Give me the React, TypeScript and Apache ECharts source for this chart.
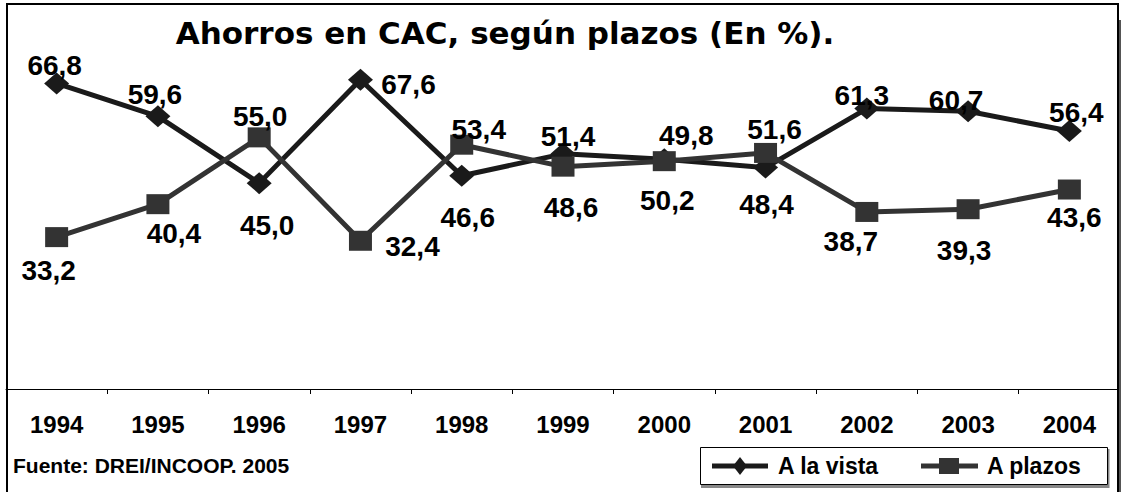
import React, { useEffect, useRef } from "react";
import * as echarts from "echarts";

const years = ["1994", "1995", "1996", "1997", "1998", "1999", "2000", "2001", "2002", "2003", "2004"];
const seriesNames = ["A la vista", "A plazos"];
const aLaVista = [66.8, 59.6, 45.0, 67.6, 46.6, 51.4, 50.2, 48.4, 61.3, 60.7, 56.4];
const aPlazos = [33.2, 40.4, 55.0, 32.4, 53.4, 48.6, 49.8, 51.6, 38.7, 39.3, 43.6];

// label offsets (pixels) relative to each point, kept apart from the data
const vistaOffsets: [number, number][] = [
  [-2, -18], [-3, -22], [8, 42], [48, 5], [6, 42], [5, -17], [3, 41], [1, 37], [-5, -13], [-12, -11], [7, -18],
];
const plazosOffsets: [number, number][] = [
  [-8, 33], [16, 29], [1, -21], [52, 6], [17, -15], [8, 41], [22, -26], [9, -23], [-16, 30], [-4, 41], [5, 28],
];

const FONT = "'Liberation Sans', Arial, Helvetica, sans-serif";
const VISTA_COLOR = "#1a1a1a";
const PLAZOS_COLOR = "#333333";

function fmt(v: number) {
  return v.toFixed(1).replace(".", ",");
}

export default function App() {
  const ref = useRef<HTMLDivElement>(null);
  useEffect(() => {
    if (!ref.current) return;
    const chart = echarts.init(ref.current, undefined, { renderer: "svg" });
    const labelStyle = {
      show: true,
      position: "inside" as const,
      color: "#000",
      fontFamily: FONT,
      fontWeight: "bold" as const,
      fontSize: 28,
      formatter: (p: any) => fmt(p.value),
    };
    const legendY = 466;
    chart.setOption({
      animation: false,
      backgroundColor: "#fff",
      grid: { left: 6, right: 1, top: 23, bottom: 103, containLabel: false },
      xAxis: {
        type: "category",
        data: years,
        boundaryGap: true,
        axisLine: { show: true, lineStyle: { color: "#000", width: 1 } },
        axisTick: { show: true, inside: false, length: 5, alignWithLabel: false, lineStyle: { color: "#000" } },
        axisLabel: {
          color: "#000",
          fontFamily: FONT,
          fontWeight: "bold",
          fontSize: 24,
          margin: 23,
          interval: 0,
        },
        splitLine: { show: false },
      },
      yAxis: {
        type: "value",
        min: 0,
        max: 80,
        show: false,
        splitLine: { show: false },
      },
      series: [
        {
          name: seriesNames[0],
          type: "line",
          symbol: "diamond",
          symbolSize: [25, 22],
          lineStyle: { color: VISTA_COLOR, width: 5 },
          itemStyle: { color: VISTA_COLOR },
          label: labelStyle,
          data: aLaVista.map((v, i) => ({ value: v, label: { offset: vistaOffsets[i] } })),
          z: 2,
        },
        {
          name: seriesNames[1],
          type: "line",
          symbol: "rect",
          symbolSize: [23, 20],
          lineStyle: { color: PLAZOS_COLOR, width: 5 },
          itemStyle: { color: PLAZOS_COLOR },
          label: labelStyle,
          data: aPlazos.map((v, i) => ({ value: v, label: { offset: plazosOffsets[i] } })),
          z: 3,
        },
      ],
      graphic: [
        {
          type: "rect",
          silent: true,
          shape: { x: 7, y: 4, width: 1111, height: 500 },
          style: { fill: "none", stroke: "#000", lineWidth: 2 },
          z: 10,
        },
        {
          type: "rect",
          silent: true,
          shape: { x: 1119, y: 20, width: 3, height: 480 },
          style: { fill: "#555" },
          z: 10,
        },
        // legend box
        {
          type: "rect",
          silent: true,
          shape: { x: 700.5, y: 447.5, width: 407, height: 37 },
          style: { fill: "#fff", stroke: "#000", lineWidth: 1 },
          z: 10,
        },
        {
          type: "rect",
          silent: true,
          shape: { x: 701, y: 485, width: 408, height: 3 },
          style: { fill: "#888" },
          z: 10,
        },
        {
          type: "rect",
          silent: true,
          shape: { x: 1108, y: 449, width: 1.5, height: 39 },
          style: { fill: "#888" },
          z: 10,
        },
        // legend item 1
        {
          type: "line",
          silent: true,
          shape: { x1: 712, y1: legendY, x2: 768, y2: legendY },
          style: { stroke: VISTA_COLOR, lineWidth: 5 },
          z: 11,
        },
        {
          type: "polygon",
          silent: true,
          shape: { points: [[740, legendY - 9], [747, legendY], [740, legendY + 9], [733, legendY]] },
          style: { fill: VISTA_COLOR },
          z: 12,
        },
        {
          type: "text",
          x: 778,
          y: legendY,
          style: {
            text: seriesNames[0],
            font: `bold 23px ${FONT}`,
            fill: "#000",
            textAlign: "left",
            textVerticalAlign: "middle",
          },
          z: 12,
        },
        // legend item 2
        {
          type: "line",
          silent: true,
          shape: { x1: 921, y1: legendY, x2: 978, y2: legendY },
          style: { stroke: PLAZOS_COLOR, lineWidth: 5 },
          z: 11,
        },
        {
          type: "rect",
          silent: true,
          shape: { x: 939, y: legendY - 8, width: 20, height: 16 },
          style: { fill: PLAZOS_COLOR },
          z: 12,
        },
        {
          type: "text",
          x: 987,
          y: legendY,
          style: {
            text: seriesNames[1],
            font: `bold 23px ${FONT}`,
            fill: "#000",
            textAlign: "left",
            textVerticalAlign: "middle",
          },
          z: 12,
        },
        {
          type: "text",
          x: 505,
          y: 33,
          style: {
            text: "Ahorros en CAC, según plazos (En %).",
            font: "bold 31px 'DejaVu Sans', Verdana, sans-serif",
            fill: "#000",
            textAlign: "center",
            textVerticalAlign: "middle",
          },
          z: 10,
        },
        {
          type: "text",
          x: 13,
          y: 465,
          style: {
            text: "Fuente: DREI/INCOOP. 2005",
            font: `bold 21px ${FONT}`,
            fill: "#000",
            textAlign: "left",
            textVerticalAlign: "middle",
          },
          z: 10,
        },
      ],
    });
    return () => chart.dispose();
  }, []);
  return (
    <div
      ref={ref}
      style={{ position: "absolute", left: 0, top: 0, width: 1121, height: 492 }}
    />
  );
}
